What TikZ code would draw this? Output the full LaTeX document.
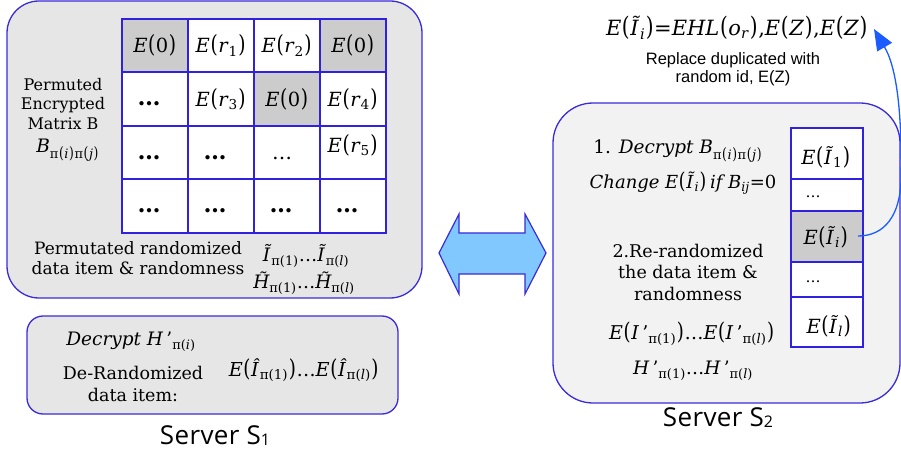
\documentclass[tikz,border=0pt]{standalone}
\usepackage{fontspec}
\usepackage{graphicx}
\setmainfont{DejaVu Serif}
\newfontfamily\serverfont[LetterSpace=1.5]{Open Sans}
\newfontfamily\arialfont{Liberation Sans}
\usetikzlibrary{arrows.meta}
\newcommand\mi[1]{\textit{#1}}
\newcommand\sub[1]{\textsubscript{#1}}
\newcommand\lp{\kern0.6pt\scalebox{0.95}[1.22]{(}\kern0.6pt}
\newcommand\rp{\kern0.6pt\scalebox{0.95}[1.22]{)}\kern0.6pt}
\definecolor{bordblue}{HTML}{3A2BD8}
\definecolor{gridblue}{HTML}{3020E0}
\definecolor{boxgrey}{HTML}{E6E6E6}
\definecolor{boxlight}{HTML}{F2F2F2}
\definecolor{cellgrey}{HTML}{CCCCCC}
\definecolor{arrblue}{HTML}{1A5CFF}
\definecolor{dblfill}{HTML}{80C8FF}
\tikzset{
  panel/.style={draw=bordblue, line width=1.3pt, inner sep=0pt},
  cell/.style={draw=gridblue, line width=2pt, fill=white, minimum width=66pt, minimum height=53.5pt, inner sep=0pt, font=\fontsize{19.5}{22}\selectfont},
  gcell/.style={cell, fill=cellgrey},
  ccell/.style={draw=gridblue, line width=1.8pt, fill=white, minimum width=72pt, inner sep=0pt, font=\fontsize{19.5}{22}\selectfont},
  lab/.style={align=center, font=\fontsize{17.5}{21.5}\selectfont, inner sep=0pt},
  mth/.style={font=\fontsize{18.5}{22}\selectfont, inner sep=0pt},
  bdots/.style={font=\fontsize{23}{23}\selectfont\bfseries, inner sep=0pt},
  srv/.style={font=\serverfont\fontsize{26}{28}\selectfont, inner sep=0pt},
}
\begin{document}
\begin{tikzpicture}[x=1pt,y=-1pt]
\useasboundingbox (0,0) rectangle (901,454);
% left big panel
\node[panel, fill=boxgrey, rounded corners=32pt, minimum width=415pt, minimum height=297pt] (s1) at (214.5,149.5) {};
% grid
\node[gcell] (c00) at (155,45.75) {\mi{E}\lp 0\rp};
\node[cell]  (c01) at (221,45.75) {\mi{E}\lp\mi{r}\sub{1}\rp};
\node[cell]  (c02) at (287,45.75) {\mi{E}\lp\mi{r}\sub{2}\rp};
\node[gcell] (c03) at (353,45.75) {\mi{E}\lp 0\rp};
\node[cell]  (c10) at (155,99.25) {};
\node[cell]  (c11) at (221,99.25) {\mi{E}\lp\mi{r}\sub{3}\rp};
\node[gcell] (c12) at (287,99.25) {\mi{E}\lp 0\rp};
\node[cell]  (c13) at (353,99.25) {\mi{E}\lp\mi{r}\sub{4}\rp};
\node[cell]  (c20) at (155,152.75) {};
\node[cell]  (c21) at (221,152.75) {};
\node[cell]  (c22) at (287,152.75) {};
\node[cell]  (c23) at (353,152.75) {};
\node[cell]  (c30) at (155,206.25) {};
\node[cell]  (c31) at (221,206.25) {};
\node[cell]  (c32) at (287,206.25) {};
\node[cell]  (c33) at (353,206.25) {};
\node[cell, draw=none, fill=none] (t23) at (353,145) {\mi{E}\lp\mi{r}\sub{5}\rp};
\node[bdots] (d10) at (149,104) {\ldots};
\node[bdots] (d20) at (149,158) {\ldots};
\node[bdots] (d21) at (215,158) {\ldots};
\node[font=\fontsize{20}{20}\selectfont, inner sep=0pt] (d22) at (282,158) {\ldots};
\node[bdots] (d30) at (149,211) {\ldots};
\node[bdots] (d31) at (215,211) {\ldots};
\node[bdots] (d32) at (281,211) {\ldots};
\node[bdots] (d33) at (347,211) {\ldots};
\node[lab, font=\fontsize{16}{19.5}\selectfont] (pem) at (63,104) {Permuted\\Encrypted\\Matrix B};
\node[mth] (bpp) at (68,150) {\mi{B}\sub{π\lp\mi{i}\rp π\lp\mi{j}\rp}};
\node[lab, font=\fontsize{17}{20}\selectfont] (prd) at (138,258) {Permutated randomized\\data item \& randomness};
\node[mth] (ipl) at (306,256) {\mi{\~I}\sub{π(1)}\ldots\mi{\~I}\sub{π(\mi{l})}};
\node[mth] (hpl) at (304,283) {\mi{\~H}\sub{π(1)}\ldots\mi{\~H}\sub{π(\mi{l})}};
% lower left panel
\node[panel, fill=boxgrey, rounded corners=16pt, minimum width=371pt, minimum height=98pt] (dec) at (212.5,365) {};
\node[mth] (dh) at (131,342) {\mi{Decrypt H}\,'\sub{π(\mi{i})}};
\node[lab] (der) at (133,384) {De-Randomized\\data item:};
\node[mth, font=\fontsize{19.2}{22}\selectfont] (eih) at (304,370) {\mi{E}\lp\mi{\^I}\sub{π(1)}\rp\ldots\mi{E}\lp\mi{\^I}\sub{π(\mi{l})}\rp};
\node[srv] (sv1) at (215,436) {Server S\raisebox{-1pt}{\fontsize{16}{16}\selectfont 1}};
% double arrow
\path[draw=bordblue, line width=1.2pt, fill=dblfill] (439,253) -- (459,214) -- (459,233) -- (525,233) -- (525,214) -- (546,253) -- (525,294) -- (525,274) -- (459,274) -- (459,294) -- cycle;
% right panel
\node[panel, fill=boxlight, rounded corners=40pt, minimum width=347pt, minimum height=300pt] (s2) at (726.5,253) {};
\node[ccell, minimum height=51pt] (r1) at (827,153.5) {};
\node[ccell, minimum height=32pt] (r2) at (827,195) {};
\node[ccell, minimum height=51pt, fill=cellgrey] (r3) at (827,236.5) {};
\node[ccell, minimum height=35pt] (r4) at (827,279.5) {};
\node[ccell, minimum height=50pt] (r5) at (827,322) {};
\node[ccell, draw=none, fill=none] (t1) at (826,157) {\mi{E}\lp\mi{\~I}\sub{1}\rp};
\node[ccell, draw=none, fill=none] (t3) at (826,237) {\mi{E}\lp\mi{\~I}\sub{\mi{i}}\rp};
\node[ccell, draw=none, fill=none] (t5) at (829,326) {\mi{E}\lp\mi{\~I}\sub{\mi{l}}\rp};
\node[font=\fontsize{15}{15}\selectfont, inner sep=0pt] (t2) at (813,197) {\ldots};
\node[font=\fontsize{15}{15}\selectfont, inner sep=0pt] (t4) at (813,282) {\ldots};
\node[mth] (st1) at (678,151) {1. \mi{Decrypt B}\sub{π\lp\mi{i}\rp π\lp\mi{j}\rp}};
\node[mth, font=\fontsize{18}{22}\selectfont] (st1b) at (683,183) {\mi{Change E}\lp\mi{\~I}\sub{\mi{i}}\rp\,\mi{if B}\sub{\mi{ij}}=0};
\node[lab] (st2) at (688,272) {2.Re-randomized\\the data item \&\\randomness};
\node[mth, font=\fontsize{19}{22}\selectfont] (eip) at (692,334) {\mi{E}\lp\mi{I}\,'\sub{π(1)}\rp\ldots\mi{E}\lp\mi{I}\,'\sub{π(\mi{l})}\rp};
\node[mth] (hp) at (693,371) {\mi{H}\,'\sub{π(1)}\ldots\mi{H}\,'\sub{π(\mi{l})}};
\node[srv] (sv2) at (718,418) {Server S\raisebox{-1pt}{\fontsize{16}{16}\selectfont 2}};
% top right
\node[font=\fontsize{21}{24}\selectfont, inner sep=0pt] (eq) at (737,28) {\mi{E}\lp\mi{\~I}\sub{\mi{i}}\rp=\mi{EHL}\lp\mi{o}\sub{\mi{r}}\rp,\mi{E}\lp\mi{Z}\rp,\mi{E}\lp\mi{Z}\rp};
\node[font=\arialfont\fontsize{16.5}{18}\selectfont, align=center, inner sep=0pt] (rep) at (733,69) {Replace duplicated with\\random id, E(Z)};
\coordinate (ast) at (858,236);
\draw[arrblue, line width=1.3pt, -{Triangle[length=21pt,width=17pt]}] (ast) .. controls (885,236) and (900,215) .. (901,180) .. controls (902,120) and (898,70) .. (874,29);
\end{tikzpicture}
\end{document}
